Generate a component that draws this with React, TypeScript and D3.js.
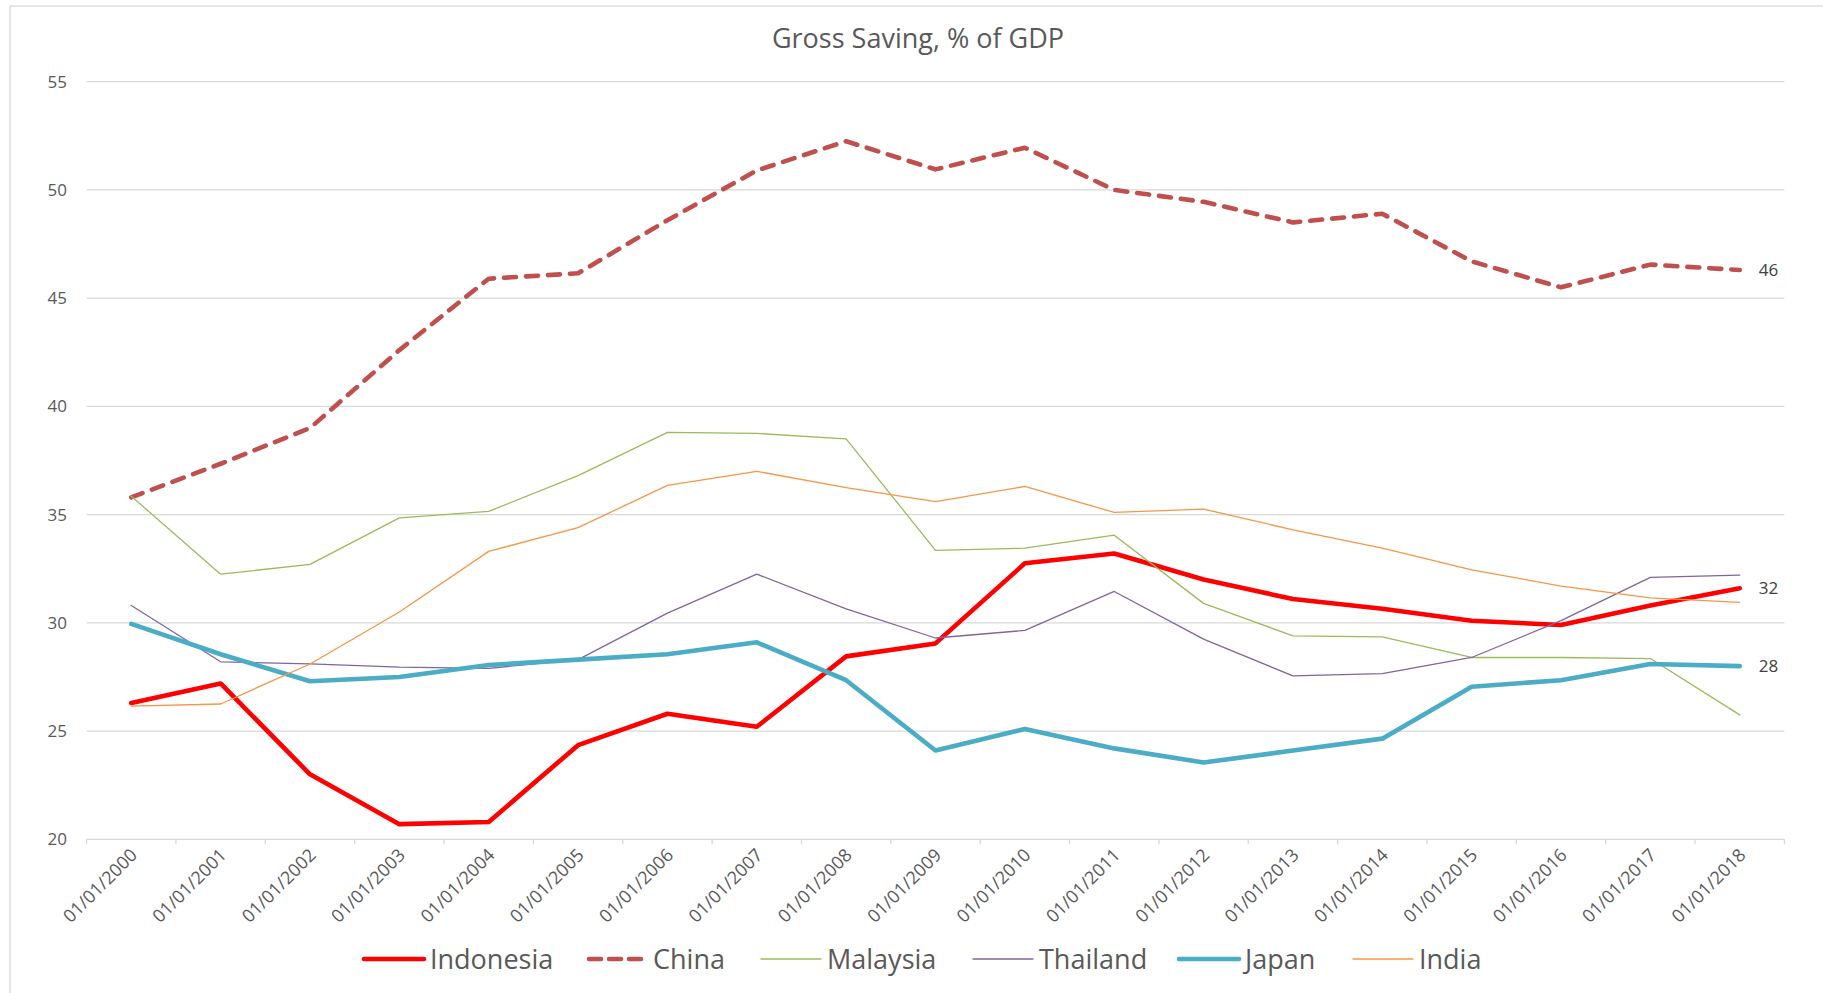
import React from "react";
import * as d3 from "d3";

const categories = [
  "01/01/2000", "01/01/2001", "01/01/2002", "01/01/2003", "01/01/2004",
  "01/01/2005", "01/01/2006", "01/01/2007", "01/01/2008", "01/01/2009",
  "01/01/2010", "01/01/2011", "01/01/2012", "01/01/2013", "01/01/2014",
  "01/01/2015", "01/01/2016", "01/01/2017", "01/01/2018",
];

const indonesia = [26.3, 27.2, 23.0, 20.7, 20.8, 24.35, 25.8, 25.2, 28.45, 29.05, 32.75, 33.2, 32.0, 31.1, 30.65, 30.1, 29.9, 30.8, 31.6];
const china = [35.8, 37.35, 39.0, 42.6, 45.9, 46.15, 48.6, 50.9, 52.25, 50.95, 51.95, 50.0, 49.45, 48.5, 48.9, 46.7, 45.5, 46.55, 46.3];
const malaysia = [35.85, 32.25, 32.7, 34.85, 35.15, 36.8, 38.8, 38.75, 38.5, 33.35, 33.45, 34.05, 30.9, 29.4, 29.35, 28.4, 28.4, 28.35, 25.75];
const thailand = [30.8, 28.2, 28.1, 27.95, 27.9, 28.3, 30.45, 32.25, 30.65, 29.3, 29.65, 31.45, 29.25, 27.55, 27.65, 28.4, 30.1, 32.1, 32.2];
const japan = [29.95, 28.55, 27.3, 27.5, 28.05, 28.3, 28.55, 29.1, 27.35, 24.1, 25.1, 24.2, 23.55, 24.1, 24.65, 27.05, 27.35, 28.1, 28.0];
const india = [26.15, 26.25, 28.1, 30.5, 33.3, 34.4, 36.35, 37.0, 36.25, 35.6, 36.3, 35.1, 35.25, 34.3, 33.45, 32.45, 31.7, 31.15, 30.95];

const yTicks = [20, 25, 30, 35, 40, 45, 50, 55];
const title = "Gross Saving, % of GDP";

type Series = {
  name: string;
  values: number[];
  color: string;
  width: number;
  dash?: string;
  endLabel?: boolean;
};

const series: Series[] = [
  { name: "Indonesia", values: indonesia, color: "#ff0000", width: 4.6, endLabel: true },
  { name: "China", values: china, color: "#c0504d", width: 4.6, dash: "12 10", endLabel: true },
  { name: "Malaysia", values: malaysia, color: "#9bbb59", width: 1.3 },
  { name: "Thailand", values: thailand, color: "#8064a2", width: 1.3 },
  { name: "Japan", values: japan, color: "#4bacc6", width: 4.6, endLabel: true },
  { name: "India", values: india, color: "#f79646", width: 1.3 },
];

// layout
const W = 1823;
const H = 993;
const plotLeft = 86.6;
const plotRight = 1784.4;
const plotTop = 81.7;
const plotBottom = 839.3;
const legendLineX = [364, 587, 761, 973, 1179, 1353];
const legendY = 959;
const FONT = "'Open Sans', sans-serif";
const TEXT = "#595959";
const GRID = "#d9d9d9";

export default function App() {
  const x = d3.scaleBand<string>().domain(categories).range([plotLeft, plotRight]);
  const y = d3.scaleLinear().domain([20, 55]).range([plotBottom, plotTop]);
  const cx = (c: string) => (x(c) as number) + x.bandwidth() / 2;

  const line = d3
    .line<number>()
    .x((_, i) => cx(categories[i]))
    .y((d) => y(d));

  const tickXs = [...categories.map((c) => x(c) as number), plotRight];

  return (
    <svg
      width={W}
      height={H}
      style={{ position: "absolute", left: 0, top: 0, background: "#fff" }}
      fontFamily={FONT}
    >
      <rect x={10} y={6} width={W} height={H} fill="#fff" stroke={GRID} strokeWidth={1.3} />
      <text x={918} y={48} textAnchor="middle" fontSize={27} fill={TEXT}>
        {title}
      </text>

      {yTicks.map((t) => (
        <g key={t}>
          <line x1={plotLeft} x2={plotRight} y1={y(t)} y2={y(t)} stroke={GRID} strokeWidth={1.3} />
          <text x={67} y={y(t)} dy="0.35em" textAnchor="end" fontSize={17} fill={TEXT}>
            {t}
          </text>
        </g>
      ))}

      {tickXs.map((tx, i) => (
        <line key={i} x1={tx} x2={tx} y1={plotBottom} y2={plotBottom + 5} stroke={GRID} strokeWidth={1.3} />
      ))}

      {categories.map((c) => (
        <text
          key={c}
          transform={`translate(${cx(c) + 7},${plotBottom + 17}) rotate(-45)`}
          textAnchor="end"
          fontSize={18}
          fill={TEXT}
        >
          {c}
        </text>
      ))}

      {series.map((s) => (
        <path
          key={s.name}
          d={line(s.values) || ""}
          fill="none"
          stroke={s.color}
          strokeWidth={s.width}
          strokeDasharray={s.dash}
          strokeLinecap="round"
          strokeLinejoin="round"
        />
      ))}

      {series
        .filter((s) => s.endLabel)
        .map((s) => {
          const last = s.values[s.values.length - 1];
          return (
            <text
              key={s.name}
              x={cx(categories[categories.length - 1]) + 19}
              y={y(last)}
              dy="0.35em"
              fontSize={17}
              fill="#404040"
            >
              {Math.round(last)}
            </text>
          );
        })}

      {series.map((s, i) => (
        <g key={s.name}>
          <line
            x1={legendLineX[i] + (s.dash ? 2 : 0)}
            x2={legendLineX[i] + 60}
            y1={legendY}
            y2={legendY}
            stroke={s.color}
            strokeWidth={s.width}
            strokeDasharray={s.dash ? "12 8" : undefined}
            strokeLinecap="round"
          />
          <text x={legendLineX[i] + 66} y={legendY + 9.5} fontSize={27} fill={TEXT}>
            {s.name}
          </text>
        </g>
      ))}
    </svg>
  );
}
